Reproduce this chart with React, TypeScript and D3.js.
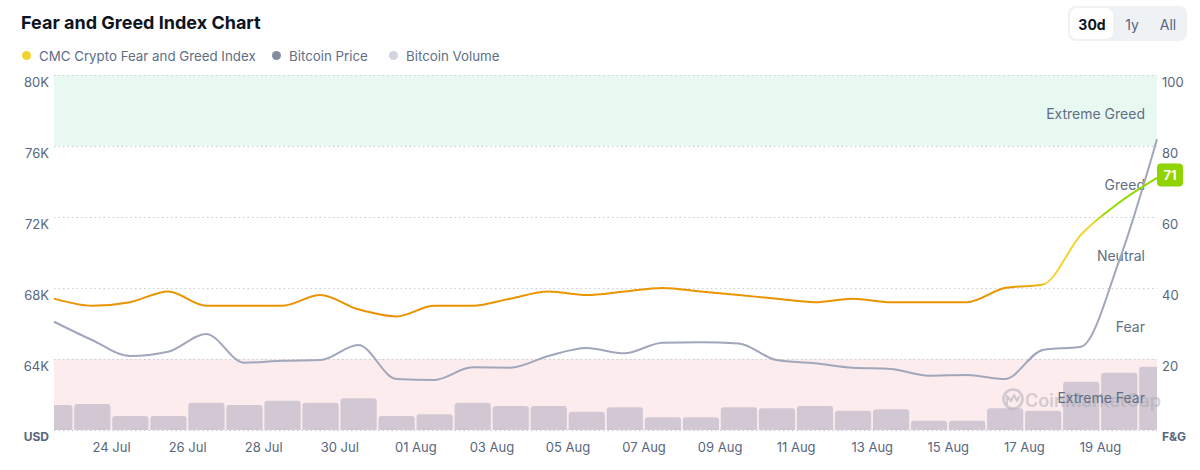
import * as d3 from 'd3';
import React, { useEffect, useRef } from 'react';

// one point per day (noon UTC), 22 Jul – 20 Aug
const days = [
  '2024-07-22', '2024-07-23', '2024-07-24', '2024-07-25', '2024-07-26', '2024-07-27',
  '2024-07-28', '2024-07-29', '2024-07-30', '2024-07-31', '2024-08-01', '2024-08-02',
  '2024-08-03', '2024-08-04', '2024-08-05', '2024-08-06', '2024-08-07', '2024-08-08',
  '2024-08-09', '2024-08-10', '2024-08-11', '2024-08-12', '2024-08-13', '2024-08-14',
  '2024-08-15', '2024-08-16', '2024-08-17', '2024-08-18', '2024-08-19', '2024-08-20',
];

const fearGreed = [
  37, 35, 36, 39, 35, 35, 35, 38, 34, 32, 35, 35, 37, 39, 38,
  39, 40, 39, 38, 37, 36, 37, 36, 36, 36, 40, 41, 55, 64, 71,
];

const btcPrice = [
  66100, 65070, 64170, 64410, 65410, 63790, 63900, 63940, 64790, 62870,
  62820, 63530, 63510, 64170, 64620, 64320, 64920, 64940, 64880, 63940,
  63760, 63510, 63440, 63060, 63100, 62870, 64510, 64690, 69500, 76380,
];

// billions USD
const btcVolume = [
  17.6, 18.3, 9.9, 9.9, 19.2, 17.6, 20.6, 19.2, 22.3, 9.9,
  11.1, 19.2, 16.9, 16.9, 12.9, 16.0, 8.9, 8.9, 16.0, 15.3,
  16.9, 13.6, 14.6, 6.5, 6.5, 15.3, 13.6, 34.0, 40.4, 44.6,
];

const priceTicks = [60000, 64000, 68000, 72000, 76000, 80000];
const fgTicks = [20, 40, 60, 80, 100];
const zones = [
  { label: 'Extreme Fear', from: 0, to: 20 },
  { label: 'Fear', from: 20, to: 40 },
  { label: 'Neutral', from: 40, to: 60 },
  { label: 'Greed', from: 60, to: 80 },
  { label: 'Extreme Greed', from: 80, to: 100 },
];
const legendItems = [
  { label: 'CMC Crypto Fear and Greed Index', color: '#f3d42f', x: 26.5 },
  { label: 'Bitcoin Price', color: '#858ca2', x: 276.5 },
  { label: 'Bitcoin Volume', color: '#cfd4df', x: 393.5 },
];
const ranges = ['30d', '1y', 'All'];

const FONT = 'Inter, "Noto Sans", sans-serif';
const W = 1200;
const H = 470;

const Chart: React.FC = () => {
  const ref = useRef<SVGSVGElement | null>(null);

  useEffect(() => {
    if (!ref.current) return;
    const svg = d3.select(ref.current);
    svg.selectAll('*').remove();

    const left = 54;
    const right = 1157;
    const top = 75;
    const bottom = 430;

    const pts = days.map((d, i) => ({
      t: new Date(d + 'T12:00:00Z'),
      fg: fearGreed[i],
      price: btcPrice[i],
      vol: btcVolume[i],
    }));

    const x = d3
      .scaleUtc()
      .domain([pts[0].t, pts[pts.length - 1].t])
      .range([left, right]);
    const yPrice = d3.scaleLinear().domain([60000, 80000]).range([bottom, top]);
    const yFg = d3.scaleLinear().domain([0, 100]).range([bottom, top]);
    const yVol = d3.scaleLinear().domain([0, 250]).range([bottom, top]);

    svg.attr('width', W).attr('height', H).style('font-family', FONT);

    const defs = svg.append('defs');
    defs
      .append('clipPath')
      .attr('id', 'plot-clip')
      .append('rect')
      .attr('x', left)
      .attr('y', top)
      .attr('width', right - left)
      .attr('height', bottom - top);

    // colour of the index line follows its value
    const grad = defs
      .append('linearGradient')
      .attr('id', 'fg-grad')
      .attr('gradientUnits', 'userSpaceOnUse')
      .attr('x1', 0)
      .attr('x2', 0)
      .attr('y1', yFg(0))
      .attr('y2', yFg(100));
    [
      [0, '#ea3943'],
      [0.22, '#ea8c00'],
      [0.402, '#ea9500'],
      [0.414, '#f3d42f'],
      [0.58, '#f3d42f'],
      [0.61, '#93d900'],
      [0.78, '#93d900'],
      [1, '#16c784'],
    ].forEach(([o, c]) => grad.append('stop').attr('offset', o as number).attr('stop-color', c as string));

    // title
    svg
      .append('text')
      .attr('x', 21)
      .attr('y', 29)
      .attr('font-size', 18)
      .attr('font-weight', 700)
      .attr('fill', '#0d1421')
      .text('Fear and Greed Index Chart');

    // range switch
    svg.append('rect').attr('x', 1068).attr('y', 6).attr('width', 119).attr('height', 35).attr('rx', 8).attr('fill', '#eff2f5');
    svg.append('rect').attr('x', 1070).attr('y', 8).attr('width', 43).attr('height', 31).attr('rx', 7).attr('fill', '#ffffff');
    const rangeX = [1092, 1132, 1168];
    ranges.forEach((r, i) => {
      svg
        .append('text')
        .attr('x', rangeX[i])
        .attr('y', 24)
        .attr('text-anchor', 'middle')
        .attr('dominant-baseline', 'central')
        .attr('font-size', 14)
        .attr('font-weight', i === 0 ? 700 : 400)
        .attr('fill', i === 0 ? '#0d1421' : '#58667e')
        .text(r);
    });

    // legend
    const legend = svg.append('g');
    legendItems.forEach((it) => {
      legend.append('circle').attr('cx', it.x).attr('cy', 55.5).attr('r', 4.5).attr('fill', it.color);
      legend
        .append('text')
        .attr('x', it.x + 12.5)
        .attr('y', 55.5)
        .attr('dominant-baseline', 'central')
        .attr('font-size', 13.3)
        .attr('fill', '#616e85')
        .text(it.label);
    });

    // zone bands
    svg
      .append('rect')
      .attr('x', left)
      .attr('width', right - left)
      .attr('y', yFg(100))
      .attr('height', yFg(80) - yFg(100))
      .attr('fill', '#e8f9f1');
    svg
      .append('rect')
      .attr('x', left)
      .attr('width', right - left)
      .attr('y', yFg(20))
      .attr('height', yFg(0) - yFg(20))
      .attr('fill', '#fdeced');

    // grid
    svg
      .append('g')
      .selectAll('line')
      .data(priceTicks)
      .enter()
      .append('line')
      .attr('x1', left)
      .attr('x2', right)
      .attr('y1', (d) => yPrice(d) + 0.5)
      .attr('y2', (d) => yPrice(d) + 0.5)
      .attr('stroke', '#c7ccd6')
      .attr('stroke-width', 1)
      .attr('stroke-dasharray', '1.5 3');

    const plot = svg.append('g').attr('clip-path', 'url(#plot-clip)');

    // volume bars, one per day
    const halfDay = 12 * 3600 * 1000;
    plot
      .append('g')
      .selectAll('rect')
      .data(pts)
      .enter()
      .append('rect')
      .attr('x', (d) => x(new Date(+d.t - halfDay)) + 1.2)
      .attr('width', (d) => x(new Date(+d.t + halfDay)) - x(new Date(+d.t - halfDay)) - 1.8)
      .attr('y', (d) => yVol(d.vol))
      .attr('height', (d) => bottom - yVol(d.vol) + 6)
      .attr('rx', 3)
      .attr('fill', '#d2c8d4');

    // watermark
    const wm = svg.append('g').attr('opacity', 0.5);
    wm.append('circle').attr('cx', 1013).attr('cy', 399).attr('r', 9.5).attr('fill', 'none').attr('stroke', '#a9a9b3').attr('stroke-width', 2.6);
    wm.append('path')
      .attr('d', 'M1007,404 L1007,396 L1011,401 L1014,395 L1017,401 L1019,397')
      .attr('fill', 'none')
      .attr('stroke', '#a9a9b3')
      .attr('stroke-width', 2.2)
      .attr('stroke-linecap', 'round')
      .attr('stroke-linejoin', 'round');
    wm.append('text')
      .attr('x', 1025)
      .attr('y', 400)
      .attr('dominant-baseline', 'central')
      .attr('font-size', 18)
      .attr('font-weight', 600)
      .attr('fill', '#a9a9b3')
      .text('CoinMarketCap');

    // zone labels
    svg
      .append('g')
      .selectAll('text')
      .data(zones)
      .enter()
      .append('text')
      .attr('x', 1145)
      .attr('y', (d) => yFg((d.from + d.to) / 2) + 2.5)
      .attr('text-anchor', 'end')
      .attr('dominant-baseline', 'central')
      .attr('font-size', 14)
      .attr('fill', '#616e85')
      .text((d) => d.label);

    // price line
    const priceLine = d3
      .line<(typeof pts)[number]>()
      .x((d) => x(d.t))
      .y((d) => yPrice(d.price))
      .curve(d3.curveMonotoneX);
    svg
      .append('path')
      .datum(pts)
      .attr('d', priceLine)
      .attr('fill', 'none')
      .attr('stroke', '#a1a7bb')
      .attr('stroke-width', 2);

    // fear & greed line
    const fgLine = d3
      .line<(typeof pts)[number]>()
      .x((d) => x(d.t))
      .y((d) => yFg(d.fg))
      .curve(d3.curveMonotoneX);
    svg
      .append('path')
      .datum(pts)
      .attr('d', fgLine)
      .attr('fill', 'none')
      .attr('stroke', 'url(#fg-grad)')
      .attr('stroke-width', 2);

    // current value badge
    const last = pts[pts.length - 1];
    const by = yFg(last.fg) - 3;
    svg.append('rect').attr('x', right).attr('y', by - 11.5).attr('width', 26).attr('height', 23).attr('rx', 4).attr('fill', '#8fd400');
    svg
      .append('text')
      .attr('x', right + 13)
      .attr('y', by)
      .attr('text-anchor', 'middle')
      .attr('dominant-baseline', 'central')
      .attr('font-size', 13)
      .attr('font-weight', 700)
      .attr('fill', '#ffffff')
      .text(last.fg);

    // left axis (price)
    const leftAxis = svg
      .append('g')
      .attr('transform', `translate(${left - 5},0)`)
      .call(
        d3
          .axisLeft(yPrice)
          .tickValues(priceTicks.slice(1))
          .tickSize(0)
          .tickFormat((d) => `${+d / 1000}K`),
      );
    leftAxis.select('.domain').remove();
    leftAxis
      .selectAll('text')
      .attr('x', 0)
      .attr('y', 7)
      .attr('font-size', 13)
      .attr('font-family', FONT)
      .attr('fill', '#58667e');

    // right axis (F&G)
    const rightAxis = svg
      .append('g')
      .attr('transform', `translate(${right + 5},0)`)
      .call(d3.axisRight(yFg).tickValues(fgTicks).tickSize(0));
    rightAxis.select('.domain').remove();
    rightAxis
      .selectAll('text')
      .attr('x', 0)
      .attr('y', 7)
      .attr('font-size', 13)
      .attr('font-family', FONT)
      .attr('fill', '#58667e');

    // x axis
    const xTicks = d3.utcDay.range(new Date('2024-07-24T00:00:00Z'), new Date('2024-08-20T00:00:00Z'), 2);
    const xAxis = svg
      .append('g')
      .attr('transform', `translate(0,${bottom})`)
      .call(
        d3
          .axisBottom(x)
          .tickValues(xTicks)
          .tickSize(0)
          .tickFormat((d) => d3.utcFormat('%d %b')(d as Date)),
      );
    xAxis.select('.domain').remove();
    xAxis
      .selectAll('text')
      .attr('y', 17)
      .attr('dy', 0)
      .attr('dominant-baseline', 'central')
      .attr('font-size', 13)
      .attr('font-family', FONT)
      .attr('fill', '#58667e');

    // axis units
    svg
      .append('text')
      .attr('x', 49)
      .attr('y', 436)
      .attr('text-anchor', 'end')
      .attr('dominant-baseline', 'central')
      .attr('font-size', 12)
      .attr('font-weight', 700)
      .attr('fill', '#58667e')
      .text('USD');
    svg
      .append('text')
      .attr('x', 1162)
      .attr('y', 436)
      .attr('dominant-baseline', 'central')
      .attr('font-size', 12)
      .attr('font-weight', 700)
      .attr('fill', '#58667e')
      .text('F&G');
  }, []);

  return <svg ref={ref} style={{ position: 'absolute', left: 0, top: 0 }}></svg>;
};

export default function App() {
  return <Chart />;
}
